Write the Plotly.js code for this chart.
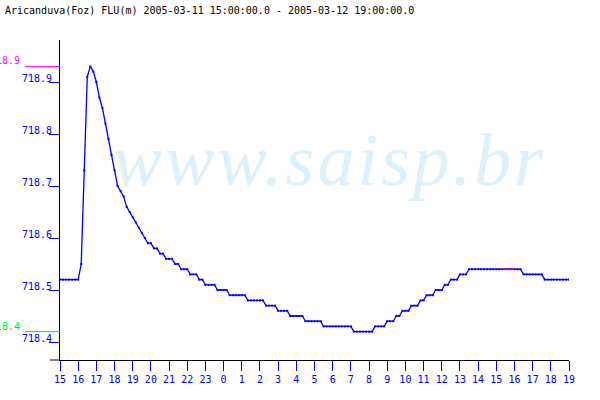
<!DOCTYPE html>
<html>
<head>
<meta charset="utf-8">
<script src="https://cdn.plot.ly/plotly-3.0.1.min.js"></script>
<style>
html,body{margin:0;padding:0;background:#fff;}
#chart{width:600px;height:400px;}
</style>
</head>
<body>
<div id="chart"></div>
<script>
// ---- data ----
const chartTitle = 'Aricanduva(Foz) FLU(m) 2005-03-11 15:00:00.0 - 2005-03-12 19:00:00.0';
const startTime = '2005-03-11 15:00';
const endTime = '2005-03-12 19:00';
const stepMinutes = 10;
// water level (m), one value every 10 minutes from 2005-03-11 15:00
const levels = [
  718.52,718.52,718.52,718.52,718.52,718.52, // 15h
  718.52,718.55,718.73,718.91,718.93,718.92, // 16h
  718.90,718.87,718.85,718.82,718.79,718.76, // 17h
  718.73,718.70,718.69,718.68,718.66,718.65, // 18h
  718.64,718.63,718.62,718.61,718.60,718.59, // 19h
  718.59,718.58,718.58,718.57,718.57,718.56, // 20h
  718.56,718.56,718.55,718.55,718.54,718.54, // 21h
  718.54,718.53,718.53,718.53,718.52,718.52, // 22h
  718.51,718.51,718.51,718.51,718.50,718.50, // 23h
  718.50,718.50,718.49,718.49,718.49,718.49, // 0h
  718.49,718.49,718.48,718.48,718.48,718.48, // 1h
  718.48,718.48,718.47,718.47,718.47,718.47, // 2h
  718.46,718.46,718.46,718.46,718.45,718.45, // 3h
  718.45,718.45,718.45,718.44,718.44,718.44, // 4h
  718.44,718.44,718.44,718.43,718.43,718.43, // 5h
  718.43,718.43,718.43,718.43,718.43,718.43, // 6h
  718.43,718.42,718.42,718.42,718.42,718.42, // 7h
  718.42,718.42,718.43,718.43,718.43,718.43, // 8h
  718.44,718.44,718.44,718.45,718.45,718.46, // 9h
  718.46,718.46,718.47,718.47,718.47,718.48, // 10h
  718.48,718.49,718.49,718.49,718.50,718.50, // 11h
  718.50,718.51,718.51,718.52,718.52,718.52, // 12h
  718.53,718.53,718.53,718.54,718.54,718.54, // 13h
  718.54,718.54,718.54,718.54,718.54,718.54, // 14h
  718.54,718.54,718.54,718.54,718.54,718.54, // 15h
  718.54,718.54,718.54,718.53,718.53,718.53, // 16h
  718.53,718.53,718.53,718.53,718.52,718.52, // 17h
  718.52,718.52,718.52,718.52,718.52,718.52, // 18h
  718.52                                      // 19h
];
// stretch drawn in red (interpolated data)
const redFrom = '2005-03-12 15:20';
const redTo = '2005-03-12 16:00';
const yTickVals = [718.4, 718.5, 718.6, 718.7, 718.8, 718.9];
const yTickText = ['718.4', '718.5', '718.6', '718.7', '718.8', '718.9'];
const watermark = 'www.saisp.br';

// ---- build ----
function fmt(d){
  const p = n => String(n).padStart(2,'0');
  return d.getFullYear()+'-'+p(d.getMonth()+1)+'-'+p(d.getDate())+' '+p(d.getHours())+':'+p(d.getMinutes());
}
const t0 = new Date(startTime.replace(' ','T'));
const times = levels.map((_,i)=>fmt(new Date(t0.getTime()+i*stepMinutes*60000)));
const redX = [], redY = [];
times.forEach((t,i)=>{ if(t>=redFrom && t<=redTo){ redX.push(t); redY.push(levels[i]); } });
const vmax = Math.max(...levels), vmin = Math.min(...levels);

const mono = 'DejaVu Sans Mono, Liberation Mono, monospace';
const traces = [
  {x: times, y: levels, type:'scatter', mode:'lines+markers',
   line:{color:'#0000ff', width:1.3}, marker:{color:'#0000ff', size:2, symbol:'square'},
   hoverinfo:'skip', showlegend:false},
  {x: redX, y: redY, type:'scatter', mode:'lines',
   line:{color:'#ff0000', width:1.5}, hoverinfo:'skip', showlegend:false}
];

const layout = {
  width:600, height:400,
  margin:{l:60, r:31, t:40, b:40},
  paper_bgcolor:'#ffffff', plot_bgcolor:'#ffffff',
  showlegend:false,
  title:{text: chartTitle, x:5/600, xanchor:'left', xref:'container',
         y:1-10/400, yanchor:'middle', yref:'container',
         font:{family:mono, size:10, color:'#000000'}},
  xaxis:{type:'date', range:[startTime, endTime], showgrid:false, zeroline:false,
         showline:true, linecolor:'#000000', linewidth:1,
         ticks:'outside', ticklen:10, tickcolor:'#0000ff', tickwidth:1,
         dtick:3600000, tick0:startTime, tickformat:'%-H',
         tickfont:{family:mono, size:10, color:'#0000ff'}},
  yaxis:{range:[718.3654, 718.9808], showgrid:false, zeroline:false,
         showline:true, linecolor:'#000000', linewidth:1,
         ticks:'outside', ticklen:10, tickcolor:'#0000ff', tickwidth:1,
         tickmode:'array', tickvals:yTickVals, ticktext:yTickText,
         ticklabelshift:-4, ticklabelstandoff:-5,
         tickfont:{family:mono, size:10, color:'#0000ff'}},
  shapes:[
    {type:'line', xref:'paper', yref:'paper', x0:-10/509, x1:0, y0:0, y1:0,
     line:{color:'#000000', width:1}},
    {type:'line', xref:'paper', yref:'y', x0:-35/509, x1:0, y0:vmax, y1:vmax,
     line:{color:'#ff00ff', width:1}},
    {type:'line', xref:'paper', yref:'y', x0:-35/509, x1:0, y0:vmin, y1:vmin,
     line:{color:'#00ee00', width:1}}
  ],
  annotations:[
    {text: watermark, xref:'paper', yref:'paper', x:(328-60)/509, y:(360-160)/320,
     xanchor:'center', yanchor:'middle', showarrow:false,
     font:{family:'Liberation Serif, serif', size:74, style:'italic', color:'#dff0fd'}},
    {text: vmax.toFixed(1), xref:'paper', yref:'y', x:-38/509, y:vmax,
     xanchor:'right', yanchor:'bottom', showarrow:false, yshift:-2,
     font:{family:mono, size:10, color:'#ff00ff'}},
    {text: vmin.toFixed(1), xref:'paper', yref:'y', x:-38/509, y:vmin,
     xanchor:'right', yanchor:'bottom', showarrow:false, yshift:-2,
     font:{family:mono, size:10, color:'#00ee00'}}
  ]
};
Plotly.newPlot('chart', traces, layout, {staticPlot:true, displayModeBar:false}).then(gd=>{
  const t = gd.querySelector('.annotation .annotation-text');
  if(t){
    t.style.letterSpacing = '3px';
    t.setAttribute('x', String(parseFloat(t.getAttribute('x')||0) + 1.5));
  }
});
</script>
</body>
</html>
